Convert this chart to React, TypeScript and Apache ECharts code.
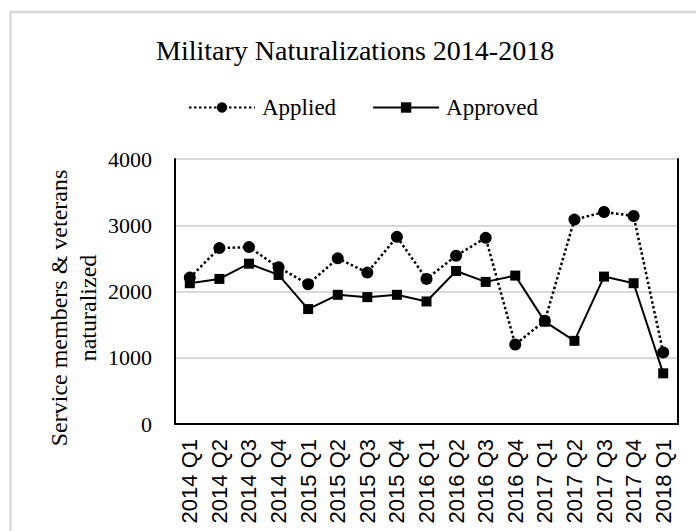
import React, { useEffect, useRef } from "react";
import * as echarts from "echarts";

const categories = [
  "2014 Q1", "2014 Q2", "2014 Q3", "2014 Q4",
  "2015 Q1", "2015 Q2", "2015 Q3", "2015 Q4",
  "2016 Q1", "2016 Q2", "2016 Q3", "2016 Q4",
  "2017 Q1", "2017 Q2", "2017 Q3", "2017 Q4",
  "2018 Q1",
];
const applied = [2210, 2655, 2670, 2365, 2110, 2500, 2285, 2825, 2190, 2540, 2810, 1200, 1560, 3085, 3200, 3140, 1080];
const approved = [2125, 2190, 2420, 2250, 1735, 1950, 1915, 1950, 1850, 2310, 2145, 2240, 1545, 1255, 2225, 2125, 765];
const yTicks = { min: 0, max: 4000, interval: 1000 };

const SERIF = "'Liberation Serif', 'Times New Roman', serif";
const SANS = "'Liberation Sans', Arial, sans-serif";

export default function App() {
  const ref = useRef<HTMLDivElement>(null);
  useEffect(() => {
    if (!ref.current) return;
    const chart = echarts.init(ref.current, undefined, { renderer: "svg" });
    chart.setOption({
      animation: false,
      backgroundColor: "#fff",
      title: {
        text: "Military Naturalizations 2014-2018",
        left: 151,
        top: 31,
        textStyle: { fontFamily: SERIF, fontSize: 28, fontWeight: "normal", color: "#000" },
      },
      legend: {
        left: 183,
        top: 91,
        itemWidth: 66,
        itemHeight: 13,
        itemGap: 36,
        textStyle: { fontFamily: SERIF, fontSize: 23, color: "#000", padding: [0, 0, 0, 2] },
        data: ["Applied", "Approved"],
      },
      graphic: [
        {
          type: "rect",
          shape: { x: 10.5, y: 12, width: 900, height: 900 },
          style: { fill: "none", stroke: "#d9d9d9", lineWidth: 2.5 },
          silent: true,
        },
        {
          type: "text",
          x: 73,
          y: 308,
          rotation: Math.PI / 2,
          style: {
            text: "Service members & veterans\nnaturalized",
            fontFamily: SERIF,
            fontSize: 24,
            lineHeight: 29,
            fill: "#000",
            align: "center",
            verticalAlign: "middle",
          },
        },
      ],
      grid: { left: 175, right: 18, top: 159, bottom: 107, containLabel: false },
      xAxis: {
        type: "category",
        data: categories,
        boundaryGap: true,
        axisLine: { show: true, lineStyle: { color: "#000", width: 2 } },
        axisTick: { show: false },
        axisLabel: {
          rotate: 90,
          interval: 0,
          margin: 15,
          fontFamily: SANS,
          fontSize: 22,
          color: "#000",
        },
        splitLine: { show: false },
      },
      yAxis: [
        {
          type: "value",
          min: yTicks.min,
          max: yTicks.max,
          interval: yTicks.interval,
          axisLine: { show: true, lineStyle: { color: "#000", width: 2 } },
          axisTick: { show: false },
          axisLabel: {
            margin: 23,
            fontFamily: SERIF,
            fontSize: 22,
            color: "#000",
            formatter: (v: number) => String(v),
          },
          splitLine: { show: true, lineStyle: { color: "#d9d9d9", width: 2 } },
        },
        {
          type: "value",
          position: "right",
          min: yTicks.min,
          max: yTicks.max,
          interval: yTicks.interval,
          axisLine: { show: true, lineStyle: { color: "#000", width: 2 } },
          axisTick: { show: false },
          axisLabel: { show: false },
          splitLine: { show: false },
        },
      ],
      series: [
        {
          name: "Applied",
          type: "line",
          data: applied,
          symbol: "circle",
          symbolSize: 12,
          itemStyle: { color: "#000" },
          lineStyle: { color: "#000", width: 2.5, type: [2.5, 2.5] },
          z: 3,
        },
        {
          name: "Approved",
          type: "line",
          data: approved,
          symbol: "rect",
          symbolSize: 10,
          itemStyle: { color: "#000" },
          lineStyle: { color: "#000", width: 2 },
          z: 4,
        },
      ],
    });
    return () => chart.dispose();
  }, []);
  return (
    <div
      ref={ref}
      style={{ position: "absolute", left: 0, top: 0, width: 696, height: 531, background: "#fff" }}
    />
  );
}
